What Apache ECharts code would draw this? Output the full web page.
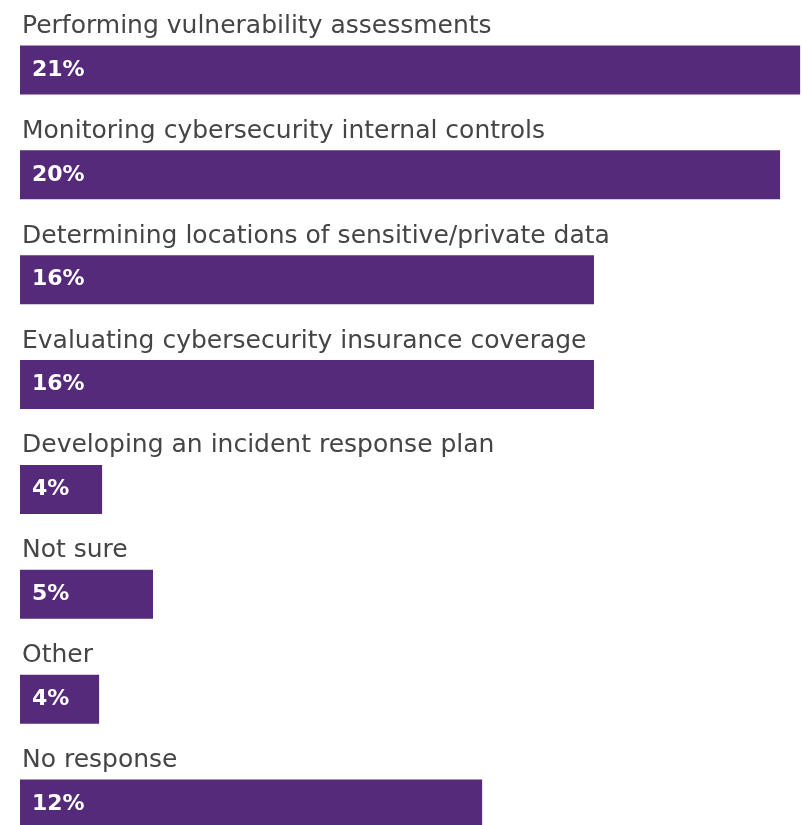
<!DOCTYPE html>
<html>
<head>
<meta charset="utf-8">
<script src="https://cdn.jsdelivr.net/npm/echarts@6/dist/echarts.min.js"></script>
<style>
  html, body { margin: 0; padding: 0; background: #fff; }
  #main { width: 802px; height: 825px; }
</style>
</head>
<body>
<div id="main"></div>
<script>
// categories, top to bottom
var categories = [
    'Performing vulnerability assessments',
    'Monitoring cybersecurity internal controls',
    'Determining locations of sensitive/private data',
    'Evaluating cybersecurity insurance coverage',
    'Developing an incident response plan',
    'Not sure',
    'Other',
    'No response'
];
// printed labels
var shares = [21, 20, 16, 16, 4, 5, 4, 12];
// bar lengths as drawn (percent units)
var barLengths = [21, 20.46, 15.45, 15.45, 2.21, 3.58, 2.13, 12.44];

var myChart = echarts.init(document.getElementById('main'));

var option = {
    backgroundColor: '#fff',
    animation: false,
    // boundaryGap off so the category centres land at 70 ... 804
    grid: {
        left: 20,
        right: 0,
        top: 70,
        bottom: 21
    },
    xAxis: {
        type: 'value',
        min: 0,
        max: 21.05,
        show: false,
        splitLine: { show: false }
    },
    yAxis: {
        type: 'category',
        inverse: true,
        boundaryGap: false,
        data: categories,
        axisLine: { show: false },
        axisTick: { show: false },
        splitLine: { show: false },
        axisLabel: {
            inside: true,
            interval: 0,
            margin: 2,
            align: 'left',
            verticalAlign: 'bottom',
            padding: [0, 0, 31, 0],
            color: '#454545',
            fontFamily: 'DejaVu Sans',
            fontSize: 25
        }
    },
    series: [{
        type: 'bar',
        barWidth: 49,
        clip: false,
        data: barLengths,
        itemStyle: { color: '#562a7a' },
        label: {
            show: true,
            position: 'insideLeft',
            offset: [7, 0],
            color: '#fff',
            fontWeight: 'bold',
            fontFamily: 'DejaVu Sans',
            fontSize: 22,
            formatter: function (p) {
                return shares[p.dataIndex] + '%';
            }
        }
    }]
};
myChart.setOption(option);
</script>
</body>
</html>
